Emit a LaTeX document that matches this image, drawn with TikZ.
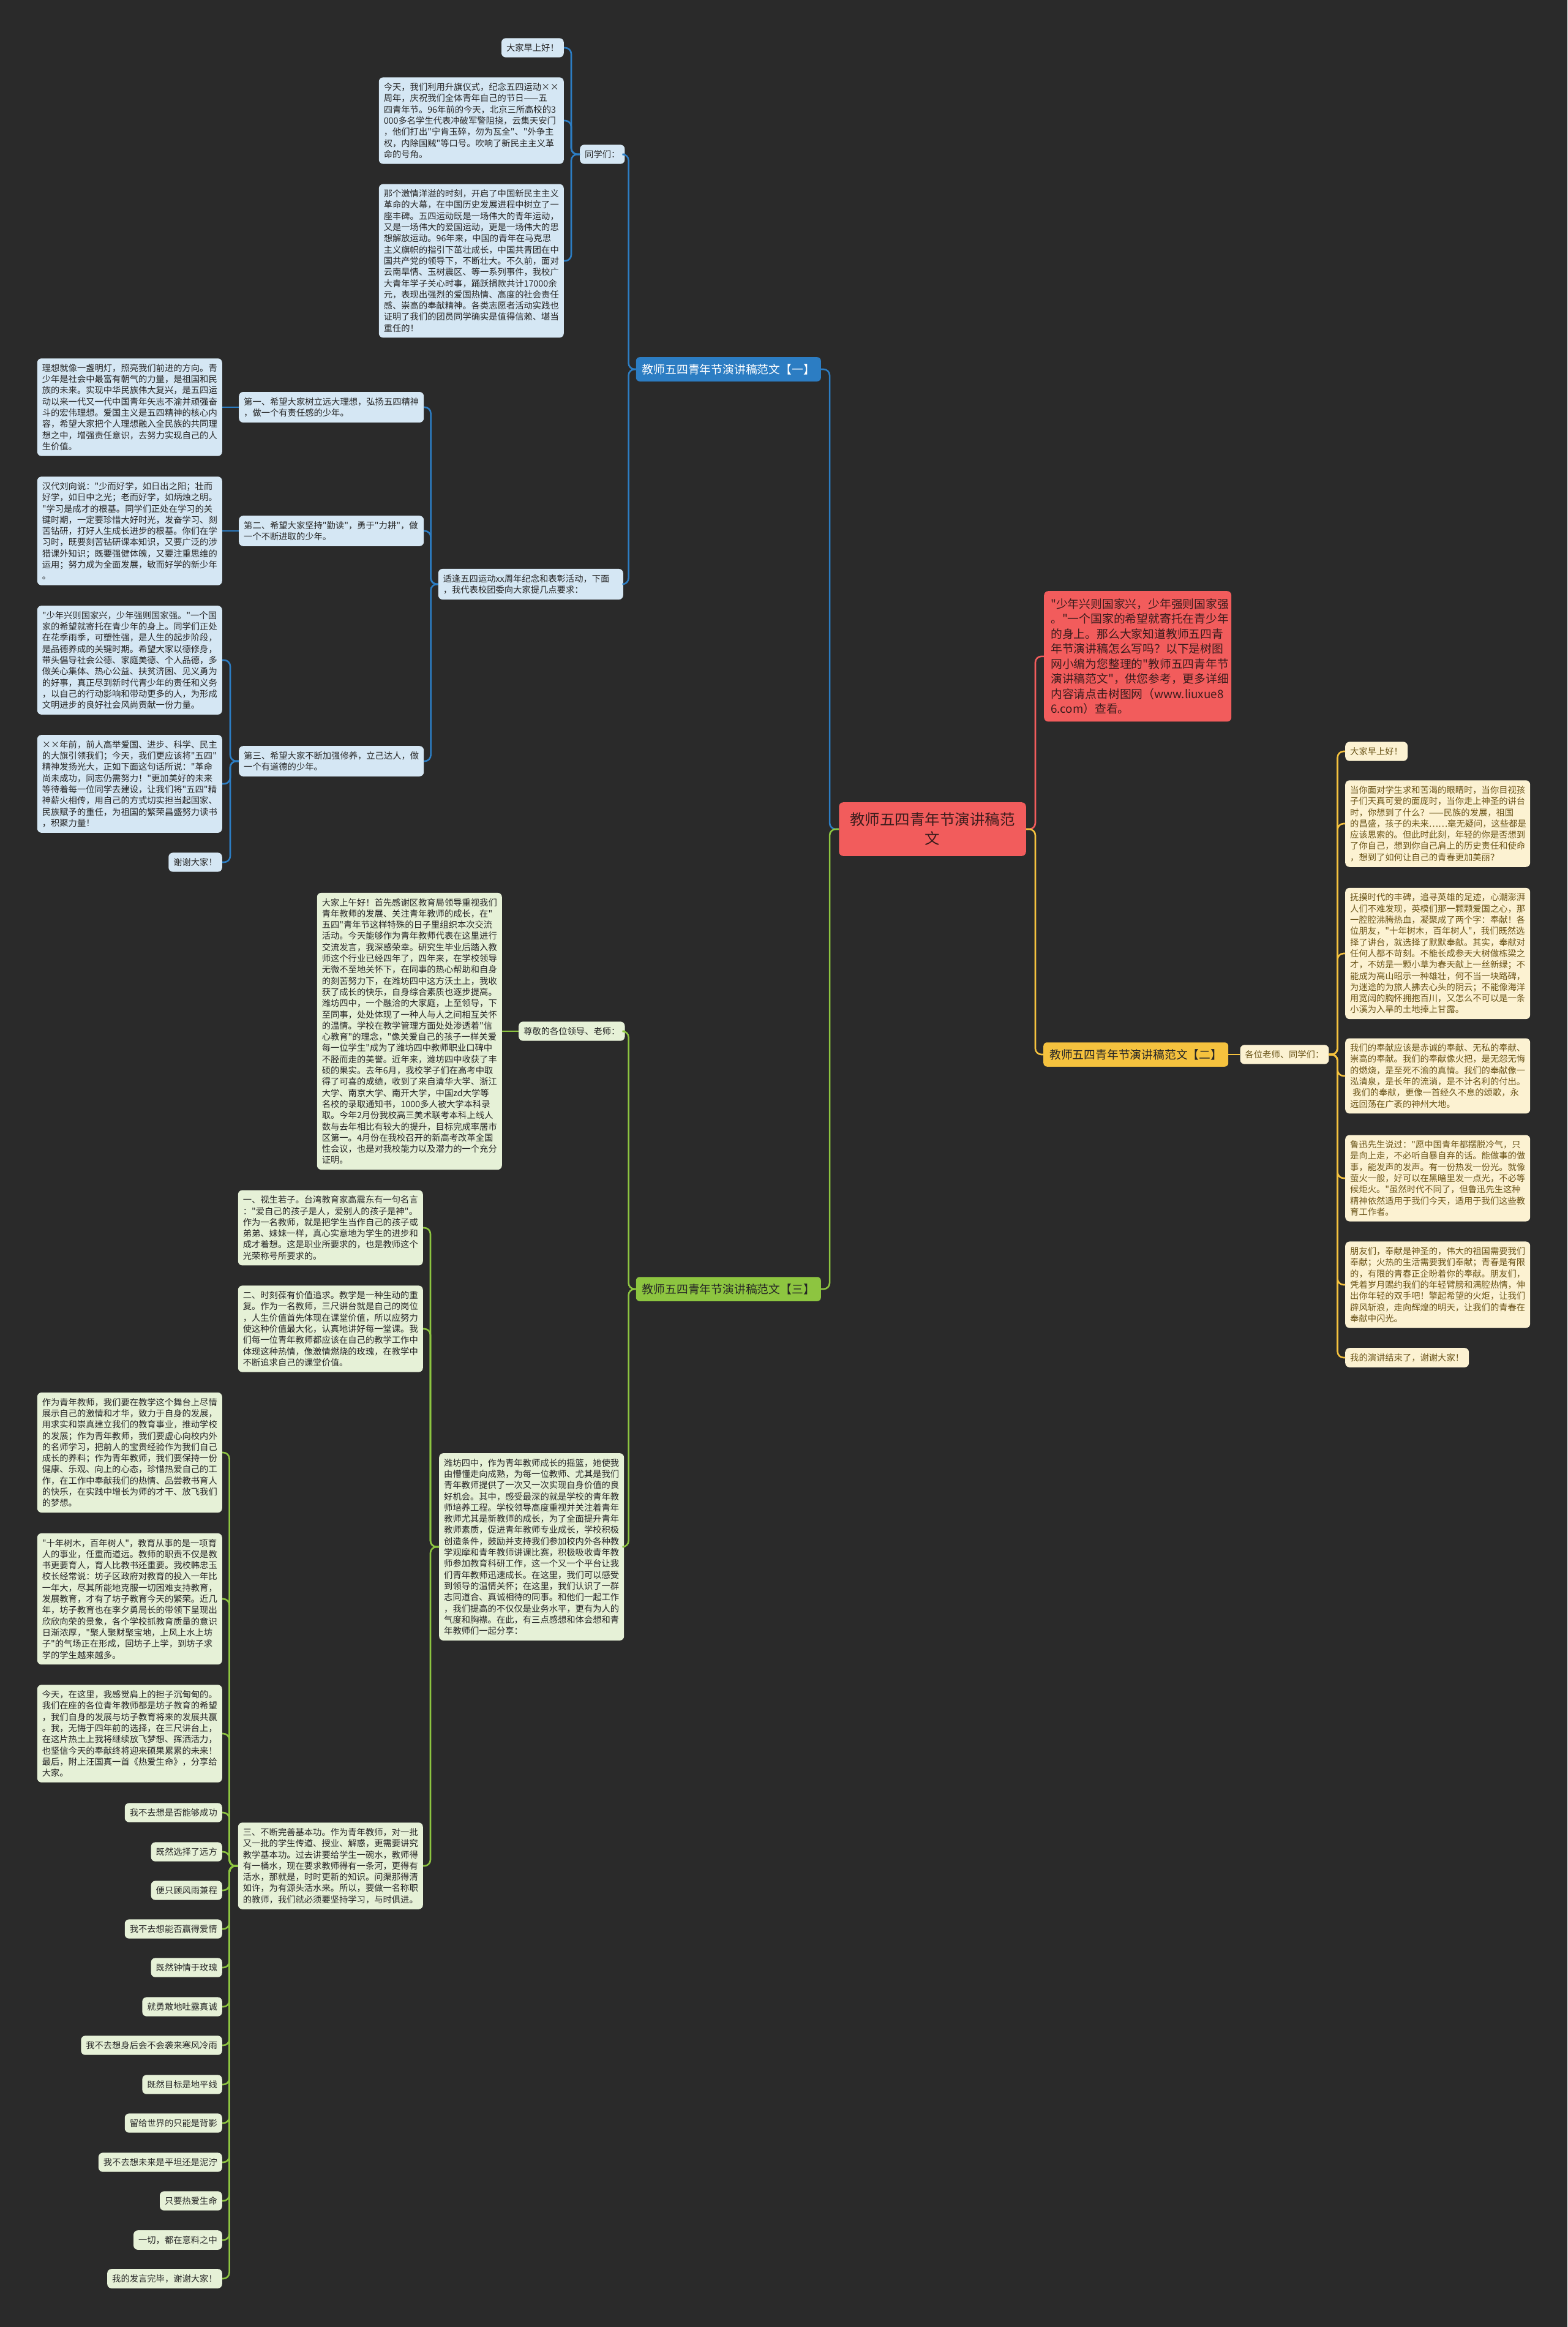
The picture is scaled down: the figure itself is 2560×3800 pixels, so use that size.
\documentclass[tikz,border=0pt]{standalone}
\usepackage{fontspec}
\usepackage{tikz}
\usetikzlibrary{positioning}
\newfontfamily\cjk{Noto Sans CJK SC}
\definecolor{bgdark}{HTML}{2A2A2A}
\definecolor{mapblue}{HTML}{2C7DC3}
\definecolor{paleblue}{HTML}{D5E7F4}
\definecolor{mapred}{HTML}{F25C5C}
\definecolor{inkred}{HTML}{3B1C1C}
\definecolor{mapyellow}{HTML}{F5C23E}
\definecolor{paleyellow}{HTML}{FCF2D2}
\definecolor{inkbrown}{HTML}{6A5418}
\definecolor{mapgreen}{HTML}{8DC540}
\definecolor{palegreen}{HTML}{E6F1D7}
\definecolor{inkdark}{HTML}{262626}
\newcommand\mmboxfont{\cjk\fontsize{14.3}{18.3}\selectfont}
\newcommand\mmbranchfont{\cjk\fontsize{18.8}{24.5}\selectfont}
\newcommand\mmrootfont{\cjk\fontsize{24.5}{31}\selectfont}

\begin{document}
\begin{tikzpicture}[x=1pt,y=-1pt,
  tbox/.style={rectangle,rounded corners=7pt,inner xsep=8pt,inner ysep=9pt,align=left,font=\mmboxfont},
  wbox/.style={tbox,text width=286pt},
  bluebox/.style={fill=paleblue,text=inkdark},
  yelbox/.style={fill=paleyellow,text=inkbrown},
  grnbox/.style={fill=palegreen,text=inkdark},
  branch/.style={rectangle,rounded corners=6pt,inner xsep=10pt,inner ysep=11pt,font=\mmbranchfont},
  rootnode/.style={rectangle,rounded corners=7pt,fill=mapred,text=inkred,inner xsep=18pt,inner ysep=17pt,
                   align=center,font=\mmrootfont},
  introbox/.style={rectangle,rounded corners=7pt,fill=mapred,text=inkred,inner xsep=11pt,inner ysep=12pt,
                   text width=284pt,align=left,font=\mmbranchfont},
  bline/.style={draw=mapblue,line width=2.6pt,rounded corners=10pt},
  yline/.style={draw=mapyellow,line width=2.6pt,rounded corners=10pt},
  gline/.style={draw=mapgreen,line width=2.6pt,rounded corners=10pt},
  rline/.style={draw=mapred,line width=2.6pt,rounded corners=10pt},
]
  \useasboundingbox (0,0) rectangle (2560,3800);
  \fill[bgdark] (0,0) rectangle (2560,3800);

  % Root and intro
  \node[rootnode] (root) at (1523,1354) {教师五四青年节演讲稿范\\文};
  \node[introbox,anchor=north west] (intro) at (1705,965) {"少年兴则国家兴，少年强则国家强\\。"一个国家的希望就寄托在青少年\\的身上。那么大家知道教师五四青\\年节演讲稿怎么写吗？以下是树图\\网小编为您整理的"教师五四青年节\\演讲稿范文"，供您参考，更多详细\\内容请点击树图网（www.liuxue8\\6.com）查看。};

  % Branch one
  \node[branch,fill=mapblue,text=white,anchor=east] (br1) at (1341,603) {教师五四青年节演讲稿范文【一】};
  \node[tbox,bluebox,anchor=west] (b_tx) at (947,252) {同学们：};
  \node[tbox,bluebox,anchor=east] (b_hi) at (921,78) {大家早上好！};
  \node[wbox,bluebox,anchor=east] (b_p1) at (921,197) {今天，我们利用升旗仪式，纪念五四运动××\\周年，庆祝我们全体青年自己的节日——五\\四青年节。96年前的今天，北京三所高校的3\\000多名学生代表冲破军警阻挠，云集天安门\\，他们打出"宁肯玉碎，勿为瓦全"、"外争主\\权，内除国贼"等口号。吹响了新民主主义革\\命的号角。};
  \node[wbox,bluebox,anchor=east] (b_p2) at (921,426) {那个激情洋溢的时刻，开启了中国新民主主义\\革命的大幕，在中国历史发展进程中树立了一\\座丰碑。五四运动既是一场伟大的青年运动，\\又是一场伟大的爱国运动，更是一场伟大的思\\想解放运动。96年来，中国的青年在马克思\\主义旗帜的指引下茁壮成长，中国共青团在中\\国共产党的领导下，不断壮大。不久前，面对\\云南旱情、玉树震区、等一系列事件，我校广\\大青年学子关心时事，踊跃捐款共计17000余\\元，表现出强烈的爱国热情、高度的社会责任\\感、崇高的奉献精神。各类志愿者活动实践也\\证明了我们的团员同学确实是值得信赖、堪当\\重任的！};
  \node[wbox,bluebox,anchor=east] (b_req) at (1018,954) {适逢五四运动xx周年纪念和表彰活动，下面\\，我代表校团委向大家提几点要求：};
  \node[wbox,bluebox,anchor=west] (b_1) at (390,665) {第一、希望大家树立远大理想，弘扬五四精神\\，做一个有责任感的少年。};
  \node[wbox,bluebox,anchor=west] (b_2) at (390,867) {第二、希望大家坚持"勤读"，勇于"力耕"，做\\一个不断进取的少年。};
  \node[wbox,bluebox,anchor=west] (b_3) at (390,1243) {第三、希望大家不断加强修养，立己达人，做\\一个有道德的少年。};
  \node[wbox,bluebox,left=27pt of b_1] (b_1a) {理想就像一盏明灯，照亮我们前进的方向。青\\少年是社会中最富有朝气的力量，是祖国和民\\族的未来。实现中华民族伟大复兴，是五四运\\动以来一代又一代中国青年矢志不渝并顽强奋\\斗的宏伟理想。爱国主义是五四精神的核心内\\容，希望大家把个人理想融入全民族的共同理\\想之中，增强责任意识，去努力实现自己的人\\生价值。};
  \node[wbox,bluebox,left=27pt of b_2] (b_2a) {汉代刘向说："少而好学，如日出之阳；壮而\\好学，如日中之光；老而好学，如炳烛之明。\\"学习是成才的根基。同学们正处在学习的关\\键时期，一定要珍惜大好时光，发奋学习、刻\\苦钻研，打好人生成长进步的根基。你们在学\\习时，既要刻苦钻研课本知识，又要广泛的涉\\猎课外知识；既要强健体魄，又要注重思维的\\运用；努力成为全面发展，敏而好学的新少年\\。};
  \node[wbox,bluebox,anchor=east] (b_3a) at (363,1078) {"少年兴则国家兴，少年强则国家强。"一个国\\家的希望就寄托在青少年的身上。同学们正处\\在花季雨季，可塑性强，是人生的起步阶段，\\是品德养成的关键时期。希望大家以德修身，\\带头倡导社会公德、家庭美德、个人品德，多\\做关心集体、热心公益、扶贫济困、见义勇为\\的好事，真正尽到新时代青少年的责任和义务\\，以自己的行动影响和带动更多的人，为形成\\文明进步的良好社会风尚贡献一份力量。};
  \node[wbox,bluebox,anchor=east] (b_3b) at (363,1280) {××年前，前人高举爱国、进步、科学、民主\\的大旗引领我们；今天，我们更应该将"五四"\\精神发扬光大，正如下面这句话所说："革命\\尚未成功，同志仍需努力！"更加美好的未来\\等待着每一位同学去建设，让我们将"五四"精\\神薪火相传，用自己的方式切实担当起国家、\\民族赋予的重任，为祖国的繁荣昌盛努力读书\\，积聚力量！};
  \node[tbox,bluebox,anchor=east] (b_3c) at (363,1408) {谢谢大家！};

  % Branch two
  \node[branch,fill=mapyellow,text=inkdark,anchor=west] (br2) at (1704,1722) {教师五四青年节演讲稿范文【二】};
  \node[tbox,yelbox,right=19pt of br2] (y_tx) {各位老师、同学们：};
  \node[tbox,yelbox,anchor=west] (y_1) at (2197,1227) {大家早上好！};
  \node[wbox,yelbox,anchor=west] (y_2) at (2197,1345) {当你面对学生求和苦渴的眼睛时，当你目视孩\\子们天真可爱的面庞时，当你走上神圣的讲台\\时，你想到了什么？——民族的发展，祖国\\的昌盛，孩子的未来……毫无疑问，这些都是\\应该思索的。但此时此刻，年轻的你是否想到\\了你自己，想到你自己肩上的历史责任和使命\\，想到了如何让自己的青春更加美丽？};
  \node[wbox,yelbox,anchor=west] (y_3) at (2197,1557) {抚摸时代的丰碑，追寻英雄的足迹，心潮澎湃\\人们不难发现，英模们那一颗颗爱国之心，那\\一腔腔沸腾热血，凝聚成了两个字：奉献！各\\位朋友，"十年树木，百年树人"，我们既然选\\择了讲台，就选择了默默奉献。其实，奉献对\\任何人都不苛刻。不能长成参天大树做栋梁之\\才，不妨是一颗小草为春天献上一丝新绿；不\\能成为高山昭示一种雄壮，何不当一块路碑，\\为迷途的为旅人拂去心头的阴云；不能像海洋\\用宽阔的胸怀拥抱百川，又怎么不可以是一条\\小溪为入旱的土地捧上甘露。};
  \node[wbox,yelbox,anchor=west] (y_4) at (2197,1757) {我们的奉献应该是赤诚的奉献、无私的奉献、\\崇高的奉献。我们的奉献像火把，是无怨无悔\\的燃烧，是至死不渝的真情。我们的奉献像一\\泓清泉，是长年的流淌，是不计名利的付出。\\\hspace*{4pt}我们的奉献，更像一首经久不息的颂歌，永\\远回荡在广袤的神州大地。};
  \node[wbox,yelbox,anchor=west] (y_5) at (2197,1924) {鲁迅先生说过："愿中国青年都摆脱冷气，只\\是向上走，不必听自暴自弃的话。能做事的做\\事，能发声的发声。有一份热发一份光。就像\\萤火一般，好可以在黑暗里发一点光，不必等\\候炬火。"虽然时代不同了，但鲁迅先生这种\\精神依然适用于我们今天，适用于我们这些教\\育工作者。};
  \node[wbox,yelbox,anchor=west] (y_6) at (2197,2098) {朋友们，奉献是神圣的，伟大的祖国需要我们\\奉献；火热的生活需要我们奉献；青春是有限\\的，有限的青春正企盼着你的奉献。朋友们，\\凭着岁月赐约我们的年轻臂膀和满腔热情，伸\\出你年轻的双手吧！擎起希望的火炬，让我们\\辟风斩浪，走向辉煌的明天，让我们的青春在\\奉献中闪光。};
  \node[tbox,yelbox,anchor=west] (y_7) at (2197,2217) {我的演讲结束了，谢谢大家！};

  % Branch three
  \node[branch,fill=mapgreen,text=inkdark,anchor=east] (br3) at (1341,2105) {教师五四青年节演讲稿范文【三】};
  \node[tbox,grnbox,anchor=west] (g_tx) at (847,1684) {尊敬的各位领导、老师：};
  \node[wbox,grnbox,left=27pt of g_tx] (g_open) {大家上午好！首先感谢区教育局领导重视我们\\青年教师的发展、关注青年教师的成长，在"\\五四"青年节这样特殊的日子里组织本次交流\\活动。今天能够作为青年教师代表在这里进行\\交流发言，我深感荣幸。研究生毕业后踏入教\\师这个行业已经四年了，四年来，在学校领导\\无微不至地关怀下，在同事的热心帮助和自身\\的刻苦努力下，在潍坊四中这方沃土上，我收\\获了成长的快乐，自身综合素质也逐步提高。\\潍坊四中，一个融洽的大家庭，上至领导，下\\至同事，处处体现了一种人与人之间相互关怀\\的温情。学校在教学管理方面处处渗透着"信\\心教育"的理念，"像关爱自己的孩子一样关爱\\每一位学生"成为了潍坊四中教师职业口碑中\\不胫而走的美誉。近年来，潍坊四中收获了丰\\硕的果实。去年6月，我校学子们在高考中取\\得了可喜的成绩，收到了来自清华大学、浙江\\大学、南京大学、南开大学，中国zd大学等\\名校的录取通知书，1000多人被大学本科录\\取。今年2月份我校高三美术联考本科上线人\\数与去年相比有较大的提升，目标完成率居市\\区第一。4月份在我校召开的新高考改革全国\\性会议，也是对我校能力以及潜力的一个充分\\证明。};
  \node[wbox,grnbox,anchor=west] (g_sch) at (717,2526) {潍坊四中，作为青年教师成长的摇篮，她使我\\由懵懂走向成熟，为每一位教师、尤其是我们\\青年教师提供了一次又一次实现自身价值的良\\好机会。其中，感受最深的就是学校的青年教\\师培养工程。学校领导高度重视并关注着青年\\教师尤其是新教师的成长，为了全面提升青年\\教师素质，促进青年教师专业成长，学校积极\\创造条件，鼓励并支持我们参加校内外各种教\\学观摩和青年教师讲课比赛，积极吸收青年教\\师参加教育科研工作，这一个又一个平台让我\\们青年教师迅速成长。在这里，我们可以感受\\到领导的温情关怀；在这里，我们认识了一群\\志同道合、真诚相待的同事。和他们一起工作\\，我们提高的不仅仅是业务水平，更有为人的\\气度和胸襟。在此，有三点感想和体会想和青\\年教师们一起分享：};
  \node[wbox,grnbox,anchor=east] (g_1) at (691,2005) {一、视生若子。台湾教育家高震东有一句名言\\："爱自己的孩子是人，爱别人的孩子是神"。\\作为一名教师，就是把学生当作自己的孩子或\\弟弟、妹妹一样，真心实意地为学生的进步和\\成才着想。这是职业所要求的，也是教师这个\\光荣称号所要求的。};
  \node[wbox,grnbox,anchor=east] (g_2) at (691,2170) {二、时刻葆有价值追求。教学是一种生动的重\\复。作为一名教师，三尺讲台就是自己的岗位\\，人生价值首先体现在课堂价值，所以应努力\\使这种价值最大化，认真地讲好每一堂课。我\\们每一位青年教师都应该在自己的教学工作中\\体现这种热情，像激情燃烧的玫瑰，在教学中\\不断追求自己的课堂价值。};
  \node[wbox,grnbox,anchor=east] (g_3) at (691,3047) {三、不断完善基本功。作为青年教师，对一批\\又一批的学生传道、授业、解惑，更需要讲究\\教学基本功。过去讲要给学生一碗水，教师得\\有一桶水，现在要求教师得有一条河，更得有\\活水，那就是，时时更新的知识。问渠那得清\\如许，为有源头活水来。所以，要做一名称职\\的教师，我们就必须要坚持学习，与时俱进。};
  \node[wbox,grnbox,anchor=east] (g_3a) at (363,2372) {作为青年教师，我们要在教学这个舞台上尽情\\展示自己的激情和才华，致力于自身的发展，\\用求实和崇真建立我们的教育事业，推动学校\\的发展；作为青年教师，我们要虚心向校内外\\的名师学习，把前人的宝贵经验作为我们自己\\成长的养料；作为青年教师，我们要保持一份\\健康、乐观、向上的心态，珍惜热爱自己的工\\作，在工作中奉献我们的热情、品尝教书育人\\的快乐，在实践中增长为师的才干、放飞我们\\的梦想。};
  \node[wbox,grnbox,anchor=east] (g_3b) at (363,2611) {"十年树木，百年树人"，教育从事的是一项育\\人的事业，任重而道远。教师的职责不仅是教\\书更要育人，育人比教书还重要。我校韩忠玉\\校长经常说：坊子区政府对教育的投入一年比\\一年大，尽其所能地克服一切困难支持教育，\\发展教育，才有了坊子教育今天的繁荣。近几\\年，坊子教育也在李夕勇局长的带领下呈现出\\欣欣向荣的景象，各个学校抓教育质量的意识\\日渐浓厚，"聚人聚财聚宝地，上风上水上坊\\子"的气场正在形成，回坊子上学，到坊子求\\学的学生越来越多。};
  \node[wbox,grnbox,anchor=east] (g_3c) at (363,2831) {今天，在这里，我感觉肩上的担子沉甸甸的。\\我们在座的各位青年教师都是坊子教育的希望\\，我们自身的发展与坊子教育将来的发展共赢\\。我，无悔于四年前的选择，在三尺讲台上，\\在这片热土上我将继续放飞梦想、挥洒活力，\\也坚信今天的奉献终将迎来硕果累累的未来！\\最后，附上汪国真一首《热爱生命》，分享给\\大家。};
  % the poem lines
  \node[tbox,grnbox,anchor=east] (g_l1)  at (363,2960) {我不去想是否能够成功};
  \node[tbox,grnbox,anchor=east] (g_l2)  at (363,3024) {既然选择了远方};
  \node[tbox,grnbox,anchor=east] (g_l3)  at (363,3087) {便只顾风雨兼程};
  \node[tbox,grnbox,anchor=east] (g_l4)  at (363,3150) {我不去想能否赢得爱情};
  \node[tbox,grnbox,anchor=east] (g_l5)  at (363,3213) {既然钟情于玫瑰};
  \node[tbox,grnbox,anchor=east] (g_l6)  at (363,3277) {就勇敢地吐露真诚};
  \node[tbox,grnbox,anchor=east] (g_l7)  at (363,3340) {我不去想身后会不会袭来寒风冷雨};
  \node[tbox,grnbox,anchor=east] (g_l8)  at (363,3404) {既然目标是地平线};
  \node[tbox,grnbox,anchor=east] (g_l9)  at (363,3467) {留给世界的只能是背影};
  \node[tbox,grnbox,anchor=east] (g_l10) at (363,3531) {我不去想未来是平坦还是泥泞};
  \node[tbox,grnbox,anchor=east] (g_l11) at (363,3594) {只要热爱生命};
  \node[tbox,grnbox,anchor=east] (g_l12) at (363,3658) {一切，都在意料之中};
  \node[tbox,grnbox,anchor=east] (g_l13) at (363,3721) {我的发言完毕，谢谢大家！};

  % Connectors
  \draw[rline] (root.east) -- ++(15,0) |- (intro.west);
  \draw[yline] (root.east) -- ++(15,0) |- (br2.west);
  \draw[bline] (root.west) -- ++(-15,0) |- (br1.east);
  \draw[gline] (root.west) -- ++(-15,0) |- (br3.east);

  \draw[bline] (br1.west) -- ++(-12,0) |- (b_tx.east);
  \draw[bline] (br1.west) -- ++(-12,0) |- (b_req.east);
  \draw[bline] (b_tx.west) -- ++(-14,0) |- (b_hi.east);
  \draw[bline] (b_tx.west) -- ++(-14,0) |- (b_p1.east);
  \draw[bline] (b_tx.west) -- ++(-14,0) |- (b_p2.east);
  \draw[bline] (b_req.west) -- ++(-12,0) |- (b_1.east);
  \draw[bline] (b_req.west) -- ++(-12,0) |- (b_2.east);
  \draw[bline] (b_req.west) -- ++(-12,0) |- (b_3.east);
  \draw[bline] (b_1.west) -- (b_1a.east);
  \draw[bline] (b_2.west) -- (b_2a.east);
  \draw[bline] (b_3.west) -- ++(-14,0) |- (b_3a.east);
  \draw[bline] (b_3.west) -- ++(-14,0) |- (b_3b.east);
  \draw[bline] (b_3.west) -- ++(-14,0) |- (b_3c.east);

  \draw[yline] (br2.east) -- (y_tx.west);
  \draw[yline] (y_tx.east) -- ++(14,0) |- (y_1.west);
  \draw[yline] (y_tx.east) -- ++(14,0) |- (y_2.west);
  \draw[yline] (y_tx.east) -- ++(14,0) |- (y_3.west);
  \draw[yline] (y_tx.east) -- ++(14,0) |- (y_4.west);
  \draw[yline] (y_tx.east) -- ++(14,0) |- (y_5.west);
  \draw[yline] (y_tx.east) -- ++(14,0) |- (y_6.west);
  \draw[yline] (y_tx.east) -- ++(14,0) |- (y_7.west);

  \draw[gline] (br3.west) -- ++(-12,0) |- (g_tx.east);
  \draw[gline] (br3.west) -- ++(-12,0) |- (g_sch.east);
  \draw[gline] (g_tx.west) -- (g_open.east);
  \draw[gline] (g_sch.west) -- ++(-14,0) |- (g_1.east);
  \draw[gline] (g_sch.west) -- ++(-14,0) |- (g_2.east);
  \draw[gline] (g_sch.west) -- ++(-14,0) |- (g_3.east);
  \draw[gline] (g_3.west) -- ++(-14,0) |- (g_3a.east);
  \draw[gline] (g_3.west) -- ++(-14,0) |- (g_3b.east);
  \draw[gline] (g_3.west) -- ++(-14,0) |- (g_3c.east);
  \draw[gline] (g_3.west) -- ++(-14,0) |- (g_l1.east);
  \draw[gline] (g_3.west) -- ++(-14,0) |- (g_l2.east);
  \draw[gline] (g_3.west) -- ++(-14,0) |- (g_l3.east);
  \draw[gline] (g_3.west) -- ++(-14,0) |- (g_l4.east);
  \draw[gline] (g_3.west) -- ++(-14,0) |- (g_l5.east);
  \draw[gline] (g_3.west) -- ++(-14,0) |- (g_l6.east);
  \draw[gline] (g_3.west) -- ++(-14,0) |- (g_l7.east);
  \draw[gline] (g_3.west) -- ++(-14,0) |- (g_l8.east);
  \draw[gline] (g_3.west) -- ++(-14,0) |- (g_l9.east);
  \draw[gline] (g_3.west) -- ++(-14,0) |- (g_l10.east);
  \draw[gline] (g_3.west) -- ++(-14,0) |- (g_l11.east);
  \draw[gline] (g_3.west) -- ++(-14,0) |- (g_l12.east);
  \draw[gline] (g_3.west) -- ++(-14,0) |- (g_l13.east);
\end{tikzpicture}
\end{document}
